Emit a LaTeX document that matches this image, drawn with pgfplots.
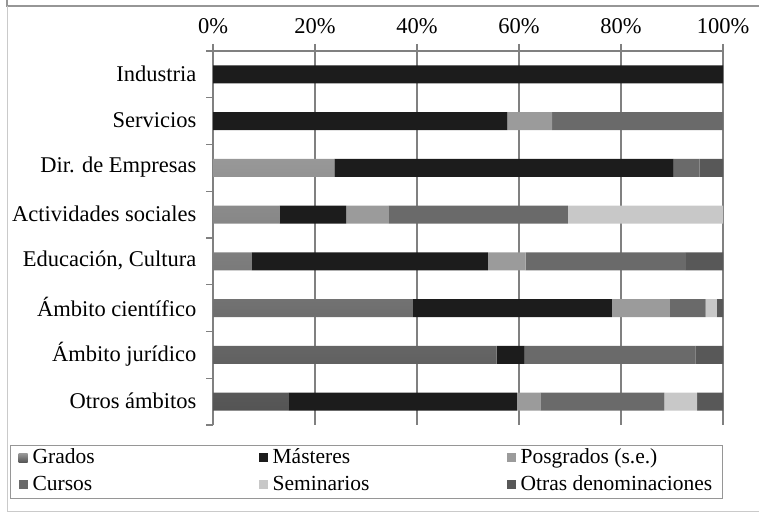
\documentclass[border=0pt]{standalone}
\usepackage{pgfplots}
\pgfplotsset{compat=1.18}
\usepackage{fontspec}
\setmainfont{Liberation Serif}

\definecolor{gradtop}{RGB}{152,152,152}
\definecolor{gradbot}{RGB}{84,84,84}
\definecolor{master}{RGB}{28,28,28}
\definecolor{posgrado}{RGB}{155,155,155}
\definecolor{curso}{RGB}{106,106,106}
\definecolor{seminario}{RGB}{200,200,200}
\definecolor{otras}{RGB}{88,88,88}
\definecolor{framegray}{RGB}{150,150,150}
\definecolor{axisgray}{RGB}{128,128,128}

% percentages per category (0 = Industria ... 7 = Otros ambitos)
\pgfplotstableread{
y  grados masteres posgrados cursos seminarios otras
0  0      100      0         0      0          0
1  0      57.7     8.8       33.5   0          0
2  23.8   66.5     0         5.1    0          4.6
3  13.1   13.0     8.4       35.1   30.4       0
4  7.6    46.3     7.4       31.4   0          7.3
5  39.2   39.0     11.4      7.0    2.2        1.2
6  55.6   5.5      0         33.5   0          5.4
7  14.9   44.7     4.6       24.3   6.4        5.1
}\datatable

\newcommand{\legtxt}[2]{\makebox[#1][l]{\hspace{3pt}#2}}

\begin{document}
\begin{tikzpicture}
\useasboundingbox (0pt,0pt) rectangle (759pt,513pt);
\draw[framegray, line width=1.5pt] (7pt,514pt) -- (7pt,507pt) -- (760pt,507pt);
\draw[framegray!50, line width=1pt] (7pt,507pt) -- (7pt,1pt) -- (760pt,1pt);

\begin{axis}[
  at={(213pt,462pt)}, anchor=north west,
  width=510pt, height=374pt, scale only axis,
  xbar stacked,
  bar width=18pt,
  font=\fontsize{22.5}{26}\selectfont,
  xmin=0, xmax=100,
  ymin=-0.5, ymax=7.5,
  y dir=reverse,
  axis x line*=top,
  axis y line*=left,
  axis line style={axisgray, line width=1.2pt, -},
  xtick={0,20,...,100},
  xticklabel={\pgfmathprintnumber{\tick}\%},
  xticklabel style={yshift=7pt},
  xmajorgrids,
  grid style={axisgray, line width=1.2pt},
  major x tick style={axisgray, line width=1.2pt},
  major tick length=7pt,
  ytick={0,...,7},
  yticklabels={Industria,Servicios,Dir. de Empresas,Actividades sociales,{Educación, Cultura},Ámbito científico,Ámbito jurídico,Otros ámbitos},
  major y tick style={draw=none},
  minor ytick={-0.5,0.5,...,7.5},
  minor y tick style={axisgray, line width=1.2pt},
  minor tick length=7pt,
  tick align=outside,
  yticklabel style={xshift=-6pt, yshift=1pt},
  /pgf/number format/assume math mode=true,
  clip=false,
  legend columns=3,
  legend cell align=left,
  legend style={
    at={(-0.398,-0.053)}, anchor=north west,
    draw=framegray, line width=1.2pt,
    font=\fontsize{21.5}{26}\selectfont,
    inner xsep=8pt, inner ysep=1pt,
    nodes={text height=16pt, text depth=6pt, inner ysep=1pt},
    row sep=3pt, column sep=0pt,
  },
  legend image code/.code={%
    \path[#1,draw=none] (0pt,-4pt) rectangle (9pt,5pt);},
]
\addplot[top color=gradtop, bottom color=gradbot, draw=none] table[x=grados, y=y] {\datatable};
\addplot[fill=master, draw=none] table[x=masteres, y=y] {\datatable};
\addplot[fill=posgrado, draw=none] table[x=posgrados, y=y] {\datatable};
\addplot[fill=curso, draw=none] table[x=cursos, y=y] {\datatable};
\addplot[fill=seminario, draw=none] table[x=seminarios, y=y] {\datatable};
\addplot[fill=otras, draw=none] table[x=otras, y=y] {\datatable};
\legend{\legtxt{227pt}{Grados},\legtxt{235pt}{Másteres},\hspace{3pt}Posgrados (s.e.),\hspace{3pt}Cursos,\hspace{3pt}Seminarios,\hspace{3pt}Otras denominaciones}
\end{axis}
\end{tikzpicture}
\end{document}
